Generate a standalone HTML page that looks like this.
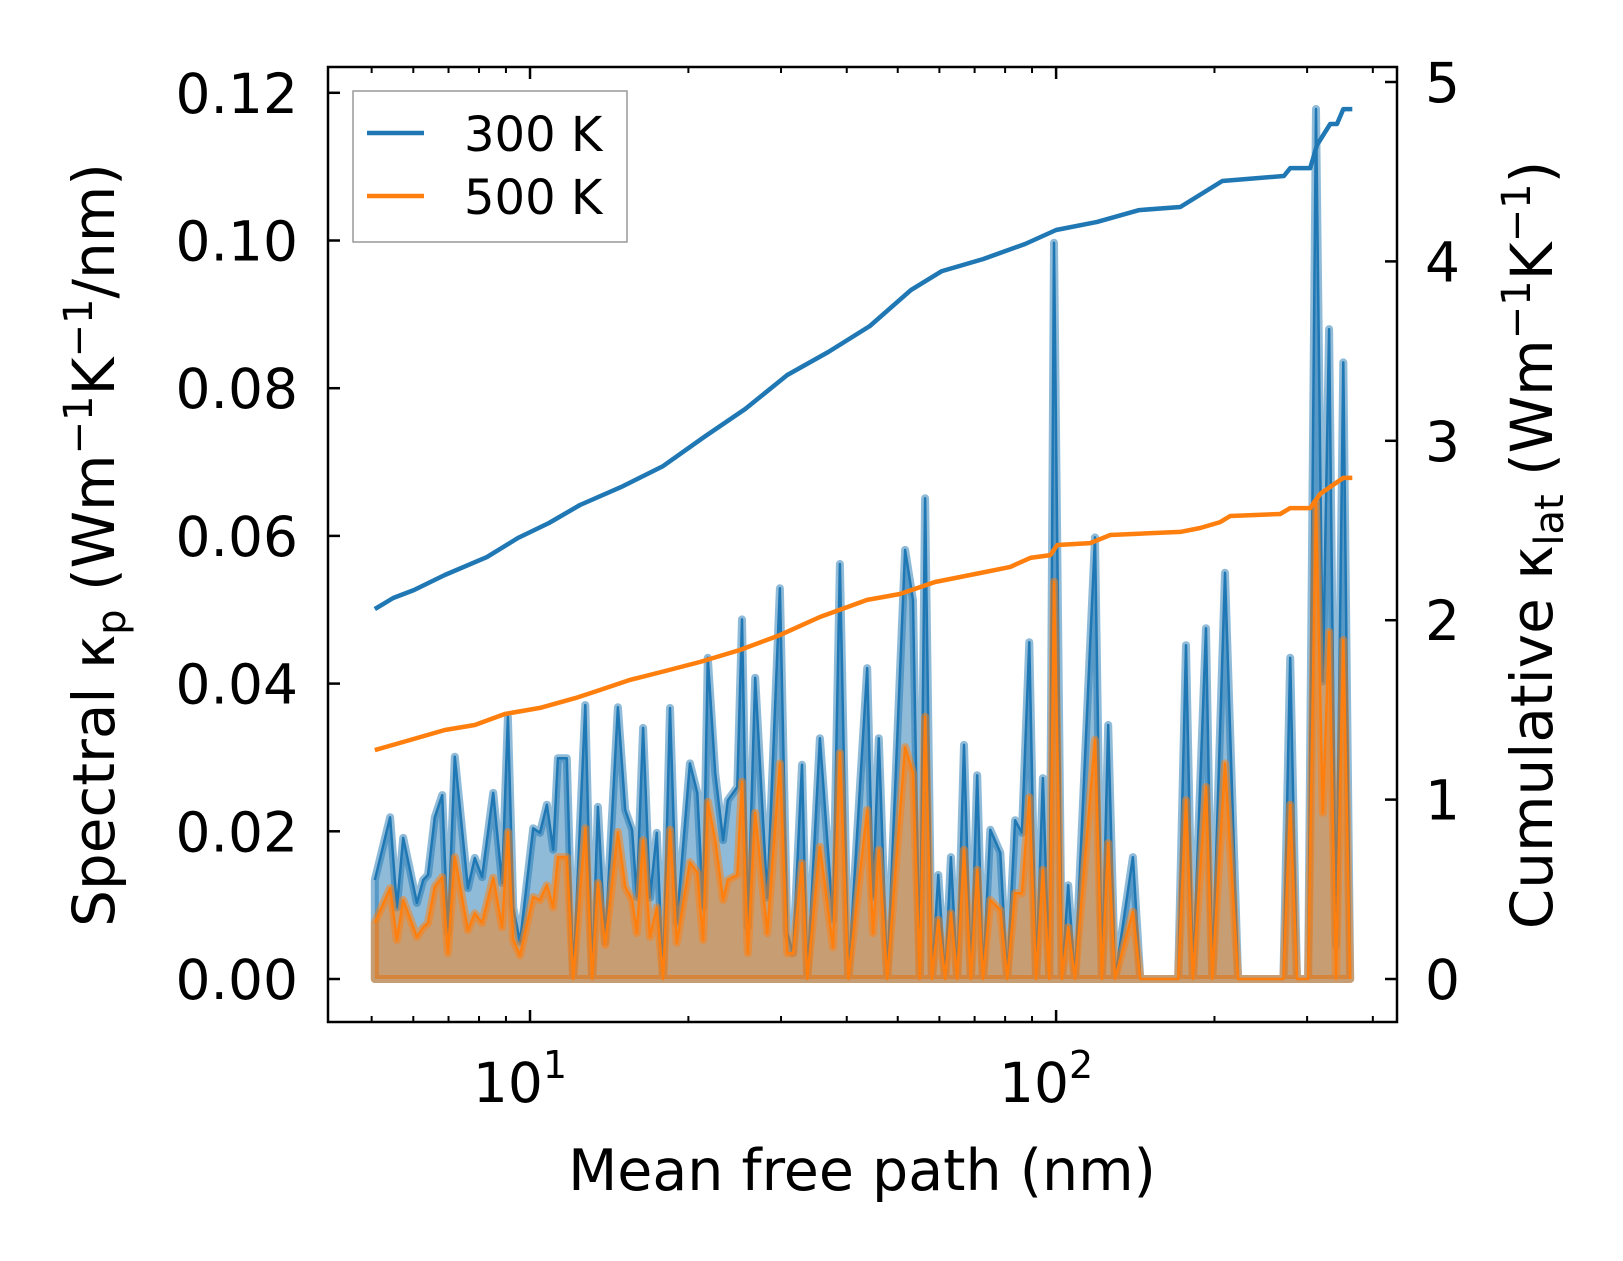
<!DOCTYPE html>
<html><head><meta charset="utf-8"><style>
html,body{margin:0;padding:0;background:#fff;}
svg text{font-family:"DejaVu Sans","Liberation Sans",sans-serif;fill:#000;}
</style></head><body>
<svg id="chart" xmlns="http://www.w3.org/2000/svg" width="1623" height="1261" viewBox="0 0 1623 1261" style="position:absolute;left:0;top:0">
<rect width="1623" height="1261" fill="#fff"/>
<g id="plot"></g>
</svg>
<script>
// x grid as log10 of mean free path (nm)
const mfpLog10 = [0.705,0.734,0.747,0.759,0.785,0.797,0.806,0.819,0.833,0.844,0.857,0.882,0.895,0.909,0.930,0.947,0.958,0.968,0.981,1.006,1.019,1.032,1.044,1.053,1.070,1.082,1.105,1.118,1.129,1.143,1.167,1.181,1.194,1.203,1.215,1.228,1.241,1.253,1.266,1.279,1.304,1.318,1.329,1.338,1.352,1.367,1.376,1.394,1.403,1.414,1.428,1.451,1.475,1.489,1.500,1.517,1.527,1.551,1.576,1.589,1.605,1.641,1.652,1.663,1.679,1.713,1.728,1.741,1.751,1.764,1.776,1.789,1.800,1.812,1.825,1.838,1.850,1.861,1.875,1.894,1.907,1.922,1.935,1.949,1.962,1.975,1.987,1.996,2.011,2.023,2.036,2.074,2.087,2.099,2.112,2.146,2.160,2.232,2.247,2.260,2.285,2.297,2.321,2.346,2.432,2.445,2.458,2.479,2.494,2.507,2.519,2.532,2.546,2.559];
const spectral300 = [0.0134,0.0219,0.0097,0.0191,0.0103,0.0134,0.0141,0.0219,0.0249,0.0062,0.0301,0.0123,0.0164,0.0138,0.0252,0.0130,0.0355,0.0097,0.0050,0.0204,0.0198,0.0236,0.0175,0.0299,0.0299,0,0.0371,0,0.0233,0.0050,0.0368,0.0229,0.0202,0.0111,0.0340,0.0110,0.0198,0,0.0367,0.0076,0.0292,0.0252,0.0097,0.0435,0.0279,0.0188,0.0242,0.0260,0.0487,0.0070,0.0408,0.0110,0.0529,0.0062,0.0035,0.0290,0,0.0326,0.0080,0.0562,0,0.0421,0.0111,0.0326,0,0.0581,0.0513,0,0.0651,0,0.0141,0,0.0165,0,0.0317,0,0.0276,0,0.0202,0.0171,0,0.0215,0.0198,0.0456,0,0.0272,0,0.0997,0,0.0127,0,0.0598,0,0.0344,0,0.0165,0,0,0.0452,0,0.0475,0,0.0550,0,0,0.0435,0,0,0.1178,0.0403,0.0880,0.0045,0.0835,0];
const spectral500 = [0.0076,0.0123,0.0053,0.0107,0.0057,0.0070,0.0076,0.0125,0.0138,0.0035,0.0165,0.0066,0.0089,0.0076,0.0137,0.0070,0.0199,0.0053,0.0032,0.0111,0.0107,0.0127,0.0097,0.0165,0.0165,0,0.0204,0,0.0130,0.0046,0.0199,0.0125,0.0107,0.0062,0.0188,0.0057,0.0097,0,0.0202,0.0049,0.0158,0.0144,0.0053,0.0240,0.0188,0.0107,0.0134,0.0141,0.0267,0.0035,0.0225,0.0062,0.0292,0.0035,0.0035,0.0157,0,0.0179,0.0043,0.0306,0,0.0229,0.0062,0.0175,0,0.0314,0.0279,0,0.0355,0,0.0080,0,0.0089,0,0.0175,0,0.0148,0,0.0107,0.0093,0,0.0116,0.0116,0.0246,0,0.0148,0,0.0538,0,0.0070,0,0.0324,0,0.0184,0,0.0091,0,0,0.0242,0,0.0260,0,0.0292,0,0,0.0236,0,0,0.0646,0.0225,0.0470,0,0.0459,0];
const cum300Log10 = [0.705,0.740,0.779,0.838,0.918,0.977,1.036,1.095,1.173,1.253,1.331,1.409,1.489,1.567,1.646,1.724,1.783,1.861,1.941,2.000,2.078,2.158,2.236,2.316,2.433,2.445,2.483,2.496,2.521,2.534,2.546,2.563];
const cum300 = [2.062,2.124,2.168,2.252,2.352,2.458,2.542,2.642,2.742,2.859,3.021,3.177,3.367,3.495,3.640,3.840,3.946,4.013,4.097,4.175,4.220,4.286,4.303,4.448,4.476,4.520,4.520,4.649,4.766,4.766,4.849,4.849];
const cum500Log10 = [0.705,0.772,0.838,0.895,0.952,1.019,1.086,1.133,1.190,1.257,1.323,1.399,1.475,1.551,1.641,1.703,1.770,1.856,1.913,1.951,1.989,2.002,2.065,2.103,2.236,2.274,2.312,2.331,2.426,2.445,2.483,2.502,2.546,2.563];
const cum500 = [1.276,1.332,1.388,1.416,1.477,1.511,1.566,1.611,1.667,1.717,1.767,1.834,1.917,2.018,2.113,2.146,2.213,2.263,2.297,2.347,2.363,2.419,2.430,2.475,2.492,2.514,2.547,2.581,2.592,2.625,2.625,2.704,2.793,2.793];
const leftTicks = [0,0.02,0.04,0.06,0.08,0.10,0.12];
const leftTickLabels = ["0.00","0.02","0.04","0.06","0.08","0.10","0.12"];
const rightTicks = [0,1,2,3,4,5];

const L=328,R=1397,T=67,B=1022;
const xL0=0.616,xL1=2.648;
const X = l => L + (l-xL0)/(xL1-xL0)*(R-L);
const Y = v => 979 - v*7385;
const Y2 = c => 979 - c*179.4;
const NS='http://www.w3.org/2000/svg';
const g=document.getElementById('plot');
function mk(tag,attrs,parent){const e=document.createElementNS(NS,tag);for(const k in attrs)e.setAttribute(k,attrs[k]);(parent||g).appendChild(e);return e;}

function areaPath(xs,vs){
  let d='M'+X(xs[0])+','+Y(0);
  xs.forEach((l,i)=>{d+=' L'+X(l).toFixed(1)+','+Y(vs[i]).toFixed(1);});
  d+=' L'+X(xs[xs.length-1])+','+Y(0)+' Z';return d;
}
function linePath(xs,vs,f){return xs.map((l,i)=>(i?'L':'M')+X(l).toFixed(1)+','+f(vs[i]).toFixed(1)).join(' ');}

let e=mk('path',{d:areaPath(mfpLog10,spectral300),fill:'#1f77b4','fill-opacity':0.5,stroke:'#1f77b4','stroke-opacity':0.5,'stroke-width':8,'stroke-linejoin':'round'});


e=mk('path',{d:linePath(mfpLog10,spectral300,Y),fill:'none',stroke:'#1f77b4','stroke-width':2.5,'stroke-linejoin':'round'});


e=mk('path',{d:areaPath(mfpLog10,spectral500),fill:'#ff7f0e','fill-opacity':0.5,stroke:'#ff7f0e','stroke-opacity':0.5,'stroke-width':8,'stroke-linejoin':'round'});


e=mk('path',{d:linePath(mfpLog10,spectral500,Y),fill:'none',stroke:'#ff7f0e','stroke-width':2.5,'stroke-linejoin':'round'});


e=mk('path',{d:linePath(cum300Log10,cum300,Y2),fill:'none',stroke:'#1f77b4','stroke-width':4.5,'stroke-linejoin':'round'});


e=mk('path',{d:linePath(cum500Log10,cum500,Y2),fill:'none',stroke:'#ff7f0e','stroke-width':4.5,'stroke-linejoin':'round'});



e=mk('rect',{x:L,y:T,width:R-L,height:B-T,fill:'none',stroke:'#000','stroke-width':2.5});



leftTicks.forEach((v,i)=>{
  const y=Y(v);
  let t=mk('line',{x1:L,x2:L+12,y1:y,y2:y,stroke:'#000','stroke-width':2.5});
  
  
  let tx=mk('text',{x:298,y:y+20,'font-size':55,'text-anchor':'end'});
  tx.textContent=leftTickLabels[i];
  
  
});
rightTicks.forEach(c=>{
  const y=Y2(c);
  let t=mk('line',{x1:R-12,x2:R,y1:y,y2:y,stroke:'#000','stroke-width':2.5});
  
  
  let tx=mk('text',{x:1425,y:y+20,'font-size':55,'text-anchor':'start'});
  tx.textContent=String(c);
  
  
});
for(let dec=0;dec<=2;dec++){
  for(let m=1;m<=9;m++){
    const l=dec+Math.log10(m);
    if(l<xL0||l>xL1)continue;
    const major=(m===1);
    const len=major?12:6;
    [[B,B-len],[T,T+len]].forEach(p=>{
      let t=mk('line',{x1:X(l),x2:X(l),y1:p[0],y2:p[1],stroke:'#000','stroke-width':major?2.5:2});
      
      
    });
    if(major){
      let tx=mk('text',{x:X(l)-10,y:1102,'font-size':55,'text-anchor':'middle'});
      tx.textContent='10';
      
      
      let sp=mk('tspan',{'font-size':38,dy:-24},tx);
      sp.textContent=String(dec);
    }
  }
}
</script>
<svg style="position:absolute;left:0;top:0" width="1623" height="1261">
<text x="862" y="1190" font-size="57" text-anchor="middle">Mean free path (nm)</text>
<text transform="translate(114,545) rotate(-90)" font-size="58" text-anchor="middle">Spectral κ<tspan font-size="40" dy="11">p</tspan><tspan dy="-11"> (Wm</tspan><tspan font-size="40" dy="-22">−1</tspan><tspan dy="22">K</tspan><tspan font-size="40" dy="-22">−1</tspan><tspan dy="22">/nm)</tspan></text>
<text transform="translate(1552,545) rotate(-90)" font-size="58" text-anchor="middle">Cumulative κ<tspan font-size="40" dy="11">lat</tspan><tspan dy="-11"> (Wm</tspan><tspan font-size="40" dy="-22">−1</tspan><tspan dy="22">K</tspan><tspan font-size="40" dy="-22">−1</tspan><tspan dy="22">)</tspan></text>
<g>
<rect x="353" y="91" width="274" height="151" fill="#fff" fill-opacity="0.8" stroke="#999" stroke-width="1.5"/>
<line x1="367" x2="424" y1="133" y2="133" stroke="#1f77b4" stroke-width="4.5"/>
<text x="464" y="151" font-size="48">300 K</text>
<line x1="367" x2="424" y1="196" y2="196" stroke="#ff7f0e" stroke-width="4.5"/>
<text x="464" y="214" font-size="48">500 K</text>
</g>
</svg>
</body></html>
